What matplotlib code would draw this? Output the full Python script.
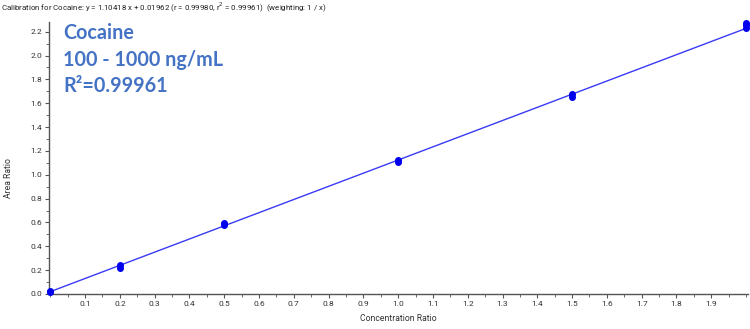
import matplotlib
matplotlib.use("Agg")
import matplotlib.pyplot as plt
from matplotlib.ticker import MultipleLocator, FixedLocator
import numpy as np

# data
conc = [0.0, 0.0, 0.2, 0.2, 0.5, 0.5, 1.0, 1.0, 1.5, 1.5, 2.0, 2.0, 2.0]
area = [0.015, 0.022, 0.22, 0.24, 0.58, 0.595, 1.11, 1.125, 1.65, 1.675, 2.23, 2.255, 2.275]
slope = 1.10418
intercept = 0.01962
fit_x = [0.0, 2.0]
xtick_vals = [0.1, 0.2, 0.3, 0.4, 0.5, 0.6, 0.7, 0.8, 0.9, 1.0, 1.1, 1.2, 1.3, 1.4, 1.5, 1.6, 1.7, 1.8, 1.9]
ytick_vals = [0.0, 0.2, 0.4, 0.6, 0.8, 1.0, 1.2, 1.4, 1.6, 1.8, 2.0, 2.2]

plt.rcParams['font.family'] = ['Roboto', 'DejaVu Sans']

fig = plt.figure(figsize=(7.5, 3.29), dpi=100)
ax = fig.add_axes([0.0657, 0.105, 0.9313, 0.828])

fy = [slope * x + intercept for x in fit_x]
ax.plot(fit_x, fy, color='#3a3af5', lw=1.0, zorder=2)
ax.plot(conc, area, 'o', color='#0000ee', ms=4.0, mec='#0000ee', zorder=3, clip_on=False)

ax.set_xlim(-0.003, 2.005)
ax.set_ylim(-0.004, 2.281)
ax.xaxis.set_major_locator(FixedLocator(xtick_vals))
ax.xaxis.set_minor_locator(MultipleLocator(0.05))
ax.yaxis.set_major_locator(FixedLocator(ytick_vals))
ax.yaxis.set_minor_locator(MultipleLocator(0.1))
ax.set_xticklabels([f"{v:.1f}" for v in xtick_vals])
ax.set_yticklabels([f"{v:.1f}" for v in ytick_vals])

for s in ['top', 'right']:
    ax.spines[s].set_visible(False)
for s in ['left', 'bottom']:
    ax.spines[s].set_color('#555555')
    ax.spines[s].set_linewidth(1.0)

ax.tick_params(axis='both', which='major', length=3, width=0.8, color='#555555',
               labelsize=6, labelcolor='#333333', pad=2)
ax.tick_params(axis='both', which='minor', length=2, width=0.6, color='#555555')

ax.set_xlabel('Concentration Ratio', fontsize=6.2, color='#333333', labelpad=5)
fig.text(0.011, 0.46, 'Area Ratio', rotation=90, fontsize=6.2, color='#333333',
         ha='center', va='center')

fig.text(0.001, 0.978, 'Calibration for Cocaine: y = 1.10418 x + 0.01962 (r = 0.99980, r$^2$ = 0.99961)  (weighting: 1 / x)',
         fontsize=5.7, color='#222222', ha='left', va='center')

txt_color = '#4472c4'
for i, line in enumerate(['Cocaine', '100 - 1000 ng/mL', 'R\u00b2=0.99961']):
    fig.text(0.084, 1 - (33 + i * 26.5) / 329, line, fontsize=14.2, fontweight='bold',
             color=txt_color, ha='left', va='center', family=['Lato', 'DejaVu Sans'])

fig.savefig('out.png', dpi=100)
